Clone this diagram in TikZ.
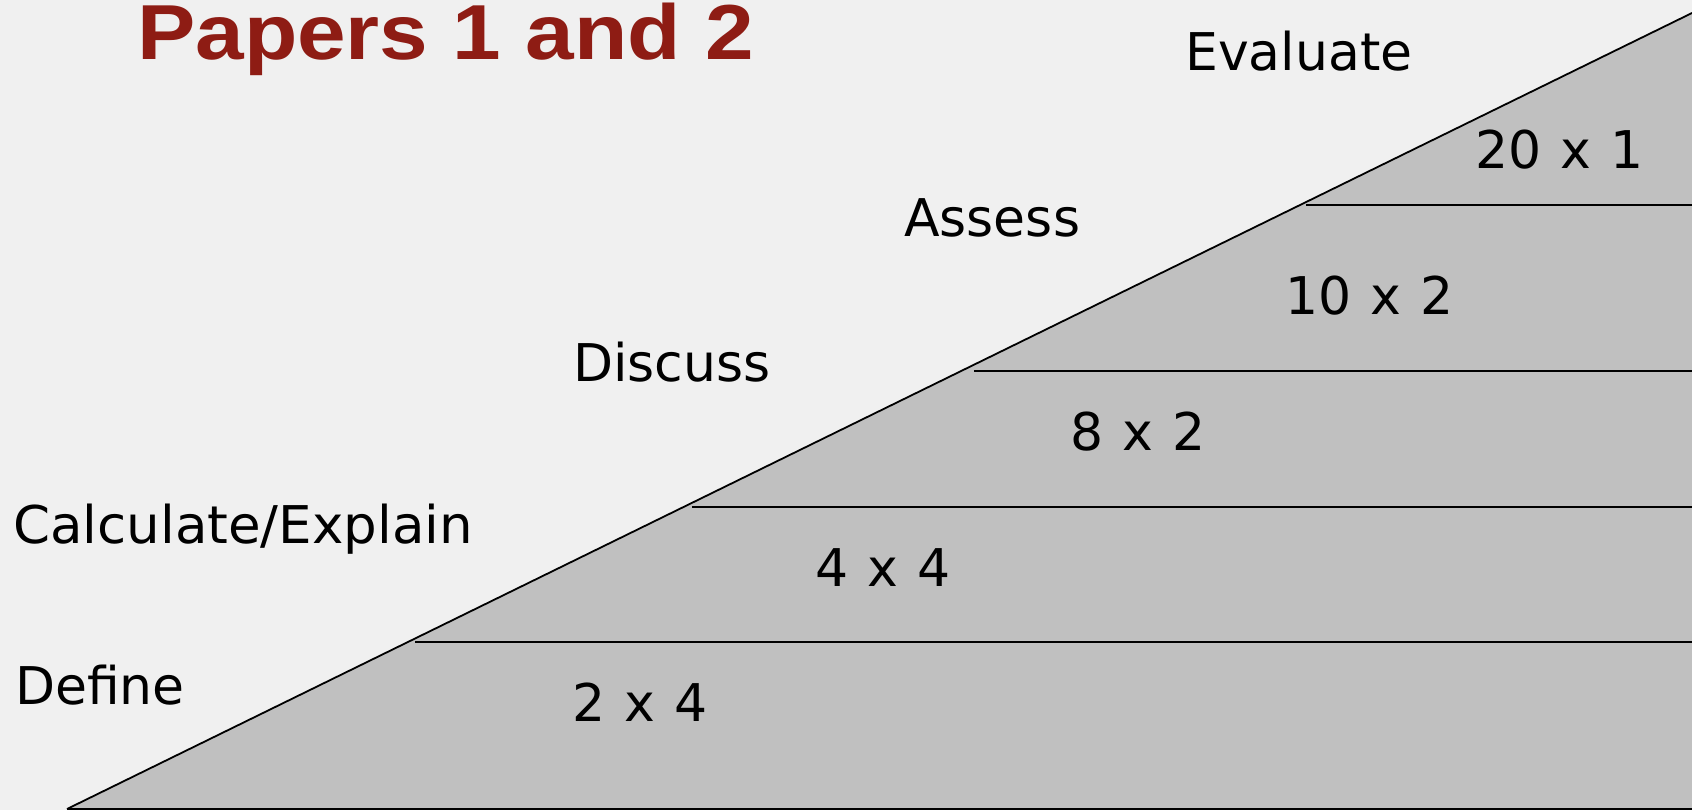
\documentclass[tikz,border=0pt]{standalone}
\usepackage{fontspec}
\usepackage{graphicx}
\setmainfont{DejaVu Sans}
\newfontfamily\titlefont{Liberation Sans}
\definecolor{bgcol}{RGB}{240,240,240}
\definecolor{wedge}{RGB}{192,192,192}
\definecolor{titlered}{RGB}{142,28,20}
\newcommand\widespaces{\spaceskip=0.37em\relax}
\tikzset{
  lbl/.style={inner sep=0pt, anchor=base west, font=\fontsize{52}{60}\selectfont},
  num/.style={lbl, execute at begin node=\widespaces},
  divider/.style={line width=2.4pt, black},
}
\begin{document}
\begin{tikzpicture}[x=1pt,y=-1pt]
\useasboundingbox (0,0) rectangle (1692,810);
\fill[bgcol] (0,0) rectangle (1692,810);
% wedge
\coordinate (bl) at (67,809);
\coordinate (tr) at (1692,13);
\coordinate (br) at (1692,809);
\fill[wedge] (bl) -- (tr) -- (br) -- cycle;
\draw[line width=1.8pt] (bl) -- (tr);
\draw[divider] (bl) -- (br);
% dividers
\coordinate (a1) at (1306,205); \coordinate (b1) at (1692,205);
\coordinate (a2) at (974,371);  \coordinate (b2) at (1692,371);
\coordinate (a3) at (692,507);  \coordinate (b3) at (1692,507);
\coordinate (a4) at (415,642);  \coordinate (b4) at (1692,642);
\draw[divider] (a1) -- (b1);
\draw[divider] (a2) -- (b2);
\draw[divider] (a3) -- (b3);
\draw[divider] (a4) -- (b4);
% title
\node[inner sep=0pt, anchor=base west, text=titlered] (title) at (137,60)
  {\scalebox{1.12}[1]{\titlefont\bfseries\fontsize{78}{84}\selectfont Papers 1 and 2}};
% labels
\node[lbl] (evaluate) at (1185,71) {Evaluate};
\node[lbl] (assess) at (904,237) {Assess};
\node[lbl] (discuss) at (573,381) {Discuss};
\node[lbl] (calc) at (13,543) {\scalebox{1.02}[1]{Calculate/Explain}};
\node[lbl] (define) at (15,704) {Define};
\node[num] (m1) at (1475,169) {20 x 1};
\node[num] (m2) at (1285,315) {10 x 2};
\node[num] (m3) at (1070,450) {8 x 2};
\node[num] (m4) at (815,586) {4 x 4};
\node[num] (m5) at (572,721) {2 x 4};
\end{tikzpicture}
\end{document}
